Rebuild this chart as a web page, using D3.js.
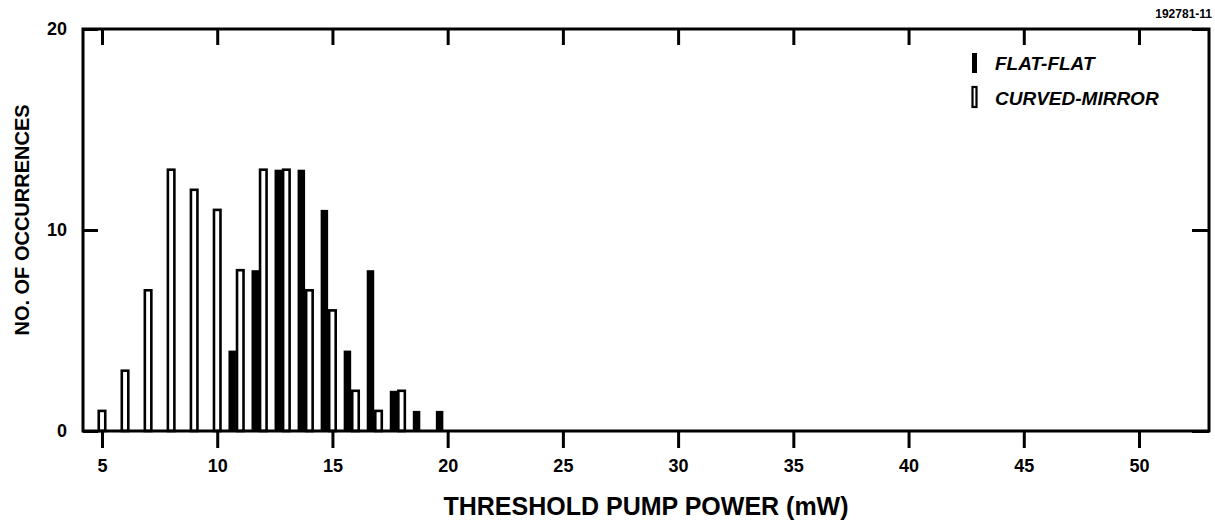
<!DOCTYPE html>
<html>
<head>
<meta charset="utf-8">
<script src="https://cdn.jsdelivr.net/npm/d3@7"></script>
<style>
  body { margin: 0; background: #fff; }
  text { font-family: "Liberation Sans", Arial, sans-serif; fill: #000; }
</style>
</head>
<body>
<div id="chart"></div>
<script>
// threshold pump power bins (mW) and number of occurrences
var curvedPower = [5, 6, 7, 8, 9, 10, 11, 12, 13, 14, 15, 16, 17, 18];
var curvedCount = [1, 3, 7, 13, 12, 11, 8, 13, 13, 7, 6, 2, 1, 2];
var flatPower = [11, 12, 13, 14, 15, 16, 17, 18, 19, 20];
var flatCount = [4, 8, 13, 13, 11, 4, 8, 2, 1, 1];

var xTicks = [5, 10, 15, 20, 25, 30, 35, 40, 45, 50];
var yTicks = [0, 10, 20];

// set the dimensions and margins of the graph
var margin = {top: 29, right: 6, bottom: 92, left: 83},
    width = 1215 - margin.left - margin.right,
    height = 523 - margin.top - margin.bottom;

var svg = d3.select("#chart")
    .append("svg")
    .attr("width", width + margin.left + margin.right)
    .attr("height", height + margin.top + margin.bottom)
    .append("g")
    .attr("transform", "translate(" + margin.left + "," + margin.top + ")");

var x = d3.scaleLinear()
    .domain([5, 50])
    .range([19, 1056]);

var y = d3.scaleLinear()
    .domain([0, 20])
    .range([height, 0]);

var curved = curvedPower.map(function(p, i) { return {p: p, n: curvedCount[i]}; });
var flat = flatPower.map(function(p, i) { return {p: p, n: flatCount[i]}; });

// filled bars sit just left of the open bars
var flatShift = 0.35, flatW = 7.5, openW = 6.5;

svg.append("g")
    .selectAll("rect")
    .data(flat)
    .enter()
    .append("rect")
    .attr("x", function(d) { return x(d.p - flatShift) - flatW / 2; })
    .attr("y", function(d) { return y(d.n); })
    .attr("width", flatW)
    .attr("height", function(d) { return height - y(d.n); })
    .attr("fill", "#000");

svg.append("g")
    .selectAll("rect")
    .data(curved)
    .enter()
    .append("rect")
    .attr("x", function(d) { return x(d.p) - openW / 2; })
    .attr("y", function(d) { return y(d.n); })
    .attr("width", openW)
    .attr("height", function(d) { return height - y(d.n); })
    .attr("fill", "#fff")
    .attr("stroke", "#000")
    .attr("stroke-width", 2.6);

// axes
var axBottom = svg.append("g")
    .attr("transform", "translate(0," + height + ")")
    .call(d3.axisBottom(x).tickValues(xTicks).tickSize(17).tickPadding(11).tickFormat(d3.format("d")));

var axTop = svg.append("g")
    .call(d3.axisBottom(x).tickValues(xTicks).tickSize(16).tickFormat(""));

var axLeft = svg.append("g")
    .call(d3.axisLeft(y).tickValues(yTicks).tickSize(-15).tickPadding(16));

var axRight = svg.append("g")
    .attr("transform", "translate(" + width + ",0)")
    .call(d3.axisRight(y).tickValues(yTicks).tickSize(-17).tickFormat(""));

[axBottom, axTop, axLeft, axRight].forEach(function(g) {
    g.select(".domain").remove();
    g.selectAll(".tick line").attr("stroke", "#000").attr("stroke-width", 3);
    g.selectAll(".tick text")
        .style("font-size", "18px")
        .style("font-weight", "bold");
});

// frame
svg.append("rect")
    .attr("width", width)
    .attr("height", height)
    .attr("fill", "none")
    .attr("stroke", "#000")
    .attr("stroke-width", 3);

svg.append("text")
    .attr("x", width / 2)
    .attr("y", height + 84)
    .style("text-anchor", "middle")
    .style("font-size", "25px")
    .style("font-weight", "bold")
    .text("THRESHOLD PUMP POWER (mW)");

svg.append("text")
    .attr("transform", "rotate(-90)")
    .attr("x", -191)
    .attr("y", -54)
    .style("text-anchor", "middle")
    .style("font-size", "20px")
    .style("font-weight", "bold")
    .text("NO. OF OCCURRENCES");

svg.append("text")
    .attr("x", width + 3)
    .attr("y", -11)
    .style("text-anchor", "end")
    .style("font-size", "12px")
    .style("font-weight", "bold")
    .text("192781-11");

// legend
var legend = svg.append("g").attr("transform", "translate(889,0)");
legend.append("rect")
    .attr("x", 0).attr("y", 24).attr("width", 5).attr("height", 20)
    .attr("fill", "#000");
legend.append("rect")
    .attr("x", 0.5).attr("y", 58).attr("width", 4).attr("height", 20)
    .attr("fill", "#fff").attr("stroke", "#000").attr("stroke-width", 2.2);
legend.append("text")
    .attr("x", 23).attr("y", 41)
    .style("font-size", "19px").style("font-style", "italic").style("font-weight", "bold")
    .text("FLAT-FLAT");
legend.append("text")
    .attr("x", 23).attr("y", 76)
    .style("font-size", "19px").style("font-style", "italic").style("font-weight", "bold")
    .text("CURVED-MIRROR");
</script>
</body>
</html>
